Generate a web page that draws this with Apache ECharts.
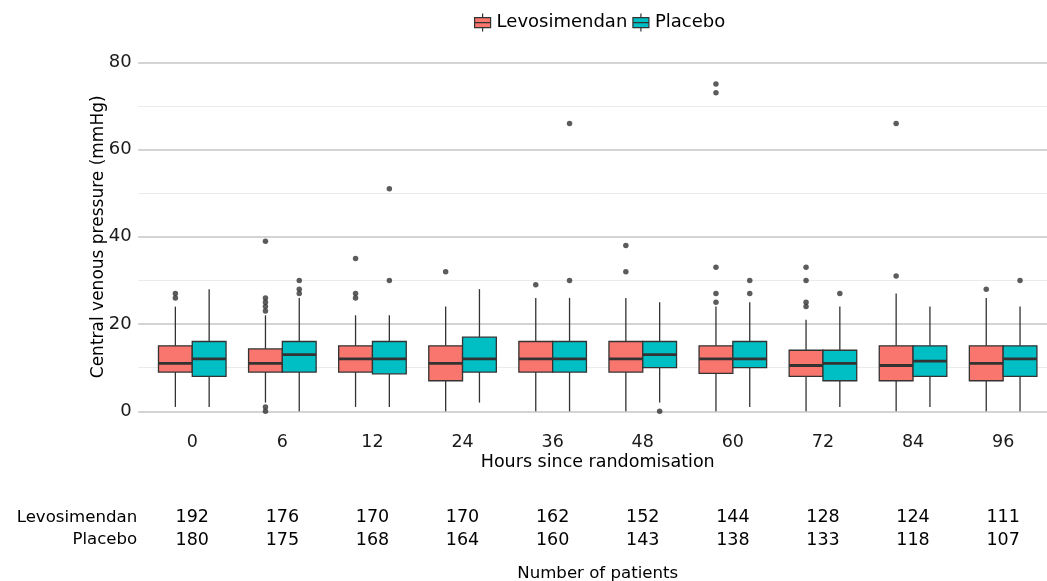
<!DOCTYPE html>
<html>
<head>
<meta charset="utf-8">
<title>Central venous pressure</title>
<script src="https://cdn.jsdelivr.net/npm/echarts@6.0.0/dist/echarts.min.js"></script>
<style>
    html, body { margin: 0; padding: 0; background: #fff; }
    #chart { width: 1047px; height: 581px; }
</style>
</head>
<body>
<div id="chart"></div>
<script>
// hours since randomisation (categories)
const hours = ['0', '6', '12', '24', '36', '48', '60', '72', '84', '96'];

// number of patients per arm
const levN = [192, 176, 170, 170, 162, 152, 144, 128, 124, 111];
const plaN = [180, 175, 168, 164, 160, 143, 138, 133, 118, 107];

// box stats: [lower whisker, Q1, median, Q3, upper whisker]
const levBox = [
    [1, 9, 11, 15, 24],
    [2, 9, 11, 14.3, 22],
    [1, 9, 12, 15, 22],
    [0, 7, 11, 15, 24],
    [0, 9, 12, 16, 26],
    [0, 9, 12, 16, 26],
    [0, 8.7, 12, 15, 24],
    [0, 8, 10.5, 14, 21],
    [0, 7, 10.5, 15, 27],
    [0, 7, 11, 15, 26]
];
const plaBox = [
    [1, 8, 12, 16, 28],
    [0, 9, 13, 16, 26],
    [1, 8.6, 12, 16, 22],
    [2, 9, 12, 17, 28],
    [0, 9, 12, 16, 26],
    [2, 10, 13, 16, 25],
    [1, 10, 12, 16, 25],
    [1, 7, 11, 14, 24],
    [1, 8, 11.5, 15, 24],
    [0, 8, 12, 15, 24]
];

// outliers per hour
const levOut = [
    [27, 26],
    [39, 26, 25, 24, 23, 1, 0],
    [35, 27, 26],
    [32],
    [29],
    [38, 32],
    [75, 73, 33, 27, 25],
    [33, 30, 25, 24],
    [66, 31],
    [28]
];
const plaOut = [
    [],
    [30, 28, 27],
    [51, 30],
    [],
    [66, 30],
    [0],
    [30, 27],
    [27],
    [],
    [30]
];

const LEV_COLOR = '#F8766D';
const PLA_COLOR = '#00BFC4';
const INK = '#333333';
const FONT = 'DejaVu Sans';
const DODGE = 0.1875;   // half of the dodge width
const positions = hours.map((h, i) => i);

const boxRows = (stats, shift) => stats.map((s, i) => [positions[i] + shift].concat(s));
const outRows = (outs, shift) => {
    const rows = [];
    outs.forEach((vals, i) => vals.forEach(v => rows.push([positions[i] + shift, v])));
    return rows;
};

const renderBox = (params, api) => {
    const x = api.value(0);
    const lo = api.coord([x, api.value(1)]);
    const q1 = api.coord([x, api.value(2)]);
    const md = api.coord([x, api.value(3)]);
    const q3 = api.coord([x, api.value(4)]);
    const hi = api.coord([x, api.value(5)]);
    const hw = api.size([DODGE, 0])[0];
    const color = api.visual('color');
    return {
        type: 'group',
        children: [
            {type: 'line', shape: {x1: lo[0], y1: lo[1], x2: q1[0], y2: q1[1]}, style: {stroke: INK, lineWidth: 1.3}},
            {type: 'line', shape: {x1: q3[0], y1: q3[1], x2: hi[0], y2: hi[1]}, style: {stroke: INK, lineWidth: 1.3}},
            {type: 'rect', shape: {x: q3[0] - hw, y: q3[1], width: hw * 2, height: q1[1] - q3[1]},
                style: {fill: color, stroke: INK, lineWidth: 1.3}},
            {type: 'line', shape: {x1: md[0] - hw, y1: md[1], x2: md[0] + hw, y2: md[1]}, style: {stroke: INK, lineWidth: 2.8}}
        ]
    };
};

const tickValues = positions.slice();
const baseX = {
    type: 'value',
    gridIndex: 0,
    min: -0.6,
    max: 9.6,
    position: 'bottom',
    nameMoveOverlap: false,
    axisLine: {show: false},
    axisTick: {show: false},
    splitLine: {show: false}
};

const option = {
    animation: false,
    backgroundColor: '#ffffff',
    textStyle: {fontFamily: FONT},
    legend: {
        left: 469,
        top: 8,
        itemWidth: 18,
        itemHeight: 18,
        itemGap: 5,
        icon: 'path://M9,0L9,4M1,4L17,4L17,9L1,9ZM1,9L17,9L17,14L1,14ZM9,14L9,18',
        itemStyle: {borderColor: INK, borderWidth: 1.2},
        textStyle: {fontSize: 18, color: '#000', fontFamily: FONT},
        data: ['Levosimendan', 'Placebo']
    },
    grid: {left: 138.2, top: 62.3, width: 919, height: 349, outerBoundsMode: 'none', containLabel: false},
    xAxis: [
        Object.assign({}, baseX, {
            axisLabel: {
                customValues: tickValues,
                formatter: v => hours[Math.round(v)],
                margin: 22,
                fontSize: 17.5,
                color: '#1a1a1a'
            },
            name: 'Hours since randomisation',
            nameLocation: 'middle',
            nameGap: 42.5,
            nameTextStyle: {fontSize: 17.5, color: '#000'}
        }),
        Object.assign({}, baseX, {
            offset: 106,
            axisLabel: {
                customValues: tickValues,
                formatter: v => String(levN[Math.round(v)]),
                margin: 0,
                verticalAlign: 'middle',
                fontSize: 17.5,
                color: '#000'
            },
            name: 'Levosimendan',
            nameLocation: 'start',
            nameGap: 1,
            nameTextStyle: {fontSize: 16.6, color: '#000', align: 'right', verticalAlign: 'middle'}
        }),
        Object.assign({}, baseX, {
            offset: 128.7,
            axisLabel: {
                customValues: tickValues,
                formatter: v => String(plaN[Math.round(v)]),
                margin: 0,
                verticalAlign: 'middle',
                fontSize: 17.5,
                color: '#000'
            },
            name: 'Placebo',
            nameLocation: 'start',
            nameGap: 1,
            nameTextStyle: {fontSize: 16.6, color: '#000', align: 'right', verticalAlign: 'middle'}
        }),
        Object.assign({}, baseX, {
            offset: 128.7,
            axisLabel: {show: false},
            name: 'Number of patients',
            nameLocation: 'middle',
            nameGap: 25,
            nameTextStyle: {fontSize: 16.6, color: '#000'}
        })
    ],
    yAxis: {
        type: 'value',
        min: 0,
        max: 80,
        interval: 20,
        nameMoveOverlap: false,
        axisLine: {show: false},
        axisTick: {show: false},
        axisLabel: {fontSize: 18, color: '#1a1a1a', margin: 6.5},
        splitLine: {show: true, lineStyle: {color: '#c6c6c6', width: 1.6}},
        minorTick: {show: false, splitNumber: 2},
        minorSplitLine: {show: true, lineStyle: {color: '#ebebeb', width: 1}},
        name: 'Central venous pressure (mmHg)',
        nameLocation: 'middle',
        nameGap: 31,
        nameTextStyle: {fontSize: 17, color: '#000'}
    },
    series: [
        {
            name: 'Levosimendan',
            type: 'custom',
            renderItem: renderBox,
            itemStyle: {color: LEV_COLOR},
            encode: {x: 0, y: [1, 2, 3, 4, 5]},
            data: boxRows(levBox, -DODGE),
            z: 2
        },
        {
            name: 'Placebo',
            type: 'custom',
            renderItem: renderBox,
            itemStyle: {color: PLA_COLOR},
            encode: {x: 0, y: [1, 2, 3, 4, 5]},
            data: boxRows(plaBox, DODGE),
            z: 2
        },
        {
            name: 'Levosimendan outliers',
            type: 'scatter',
            symbolSize: 5.5,
            itemStyle: {color: INK},
            data: outRows(levOut, -DODGE),
            z: 3
        },
        {
            name: 'Placebo outliers',
            type: 'scatter',
            symbolSize: 5.5,
            itemStyle: {color: INK},
            data: outRows(plaOut, DODGE),
            z: 3
        }
    ]
};

const myChart = echarts.init(document.getElementById('chart'), null, {renderer: 'canvas'});
myChart.setOption(option);
</script>
</body>
</html>
